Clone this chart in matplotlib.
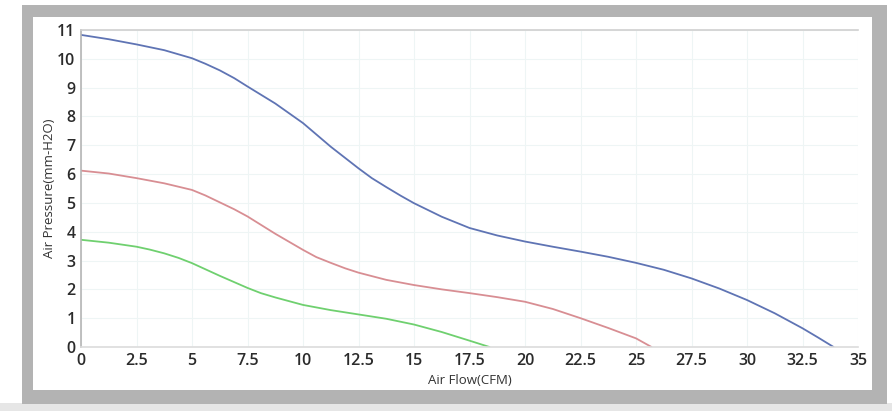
import matplotlib
matplotlib.use("Agg")
from matplotlib import pyplot as plt
from matplotlib.patches import Rectangle

# air flow (CFM) / air pressure (mm-H2O)
BLUE_X = [0, 1.25, 2.5, 3.75, 5, 5.6, 6.25, 6.9, 7.5, 8.75, 10, 11.25, 12.5, 13.1,
          13.75, 14.4, 15, 16.25, 17.5, 18.75, 20, 21.25, 22.5, 23.75, 25, 26.25,
          27.5, 28.75, 30, 31.25, 32.5, 33.2, 33.9]
BLUE_Y = [10.83, 10.68, 10.5, 10.3, 10.02, 9.83, 9.6, 9.33, 9.04, 8.45, 7.77, 6.95,
          6.2, 5.86, 5.55, 5.25, 4.99, 4.52, 4.13, 3.87, 3.66, 3.48, 3.31, 3.13,
          2.92, 2.68, 2.38, 2.03, 1.63, 1.17, 0.65, 0.33, 0]

RED_X = [0, 1.25, 2.5, 3.75, 5, 5.6, 6.25, 6.9, 7.5, 8.75, 10, 10.6, 11.25, 11.9,
         12.5, 13.75, 15, 16.25, 17.5, 18.75, 20, 21.25, 22.5, 23.75, 25, 25.7]
RED_Y = [6.12, 6.02, 5.86, 5.68, 5.45, 5.26, 5.02, 4.78, 4.53, 3.93, 3.37, 3.12,
         2.92, 2.73, 2.58, 2.33, 2.15, 2.0, 1.87, 1.73, 1.57, 1.32, 1.0, 0.66, 0.3, 0]

GREEN_X = [0, 1.25, 2.5, 3.1, 3.75, 4.4, 5, 6.25, 7.5, 8.1, 8.75, 10, 11.25, 12.5,
           13.75, 15, 16.25, 17.5, 18.4]
GREEN_Y = [3.72, 3.62, 3.48, 3.38, 3.25, 3.09, 2.91, 2.47, 2.05, 1.87, 1.72, 1.46,
           1.28, 1.13, 0.98, 0.78, 0.52, 0.22, 0]

X_TICKS = [0, 2.5, 5, 7.5, 10, 12.5, 15, 17.5, 20, 22.5, 25, 27.5, 30, 32.5, 35]
X_TICK_LABELS = ["0", "2.5", "5", "7.5", "10", "12.5", "15", "17.5", "20", "22.5",
                 "25", "27.5", "30", "32.5", "35"]
Y_TICKS = list(range(0, 12))

W, H = 892, 411
plt.rcParams['font.family'] = ['Open Sans', 'DejaVu Sans']

fig = plt.figure(figsize=(W/100, H/100), dpi=100)
fig.patch.set_facecolor('white')

def px_rect(x0, y0, x1, y1, color, z):
    # rectangle given in image pixel coords (y from top)
    fig.patches.append(Rectangle((x0/W, 1 - y1/H), (x1-x0)/W, (y1-y0)/H,
                                 transform=fig.transFigure, facecolor=color,
                                 edgecolor='none', zorder=z))

px_rect(0, 403, W, H, '#e6e6e6', -3)
px_rect(22, 5, 887, 404, '#b3b3b3', -2)
px_rect(33, 17, 872, 390, 'white', -1)

ax = fig.add_axes([81/W, 1 - 347/H, (858-81)/W, (347-30)/H])
ax.set_facecolor('none')

kw = dict(lw=1.3, solid_joinstyle='round', solid_capstyle='round')
ax.plot(BLUE_X, BLUE_Y, color='#5f74b4', **kw)
ax.plot(RED_X, RED_Y, color='#d88e93', **kw)
ax.plot(GREEN_X, GREEN_Y, color='#6fd06f', **kw)

ax.set_xlim(0, 35)
ax.set_ylim(0, 11)
ax.set_xticks(X_TICKS)
ax.set_xticklabels(X_TICK_LABELS)
ax.set_yticks(Y_TICKS)
ax.grid(True, color='#eef5f5', lw=0.8)
ax.set_axisbelow(True)

ax.tick_params(axis='both', length=0, labelsize=11.5, labelcolor='#2b2b2b')
ax.tick_params(axis='x', pad=4)
ax.tick_params(axis='y', pad=4)
for lab in ax.get_xticklabels() + ax.get_yticklabels():
    lab.set_fontweight('semibold')

ax.spines['left'].set_color('#b5b5b5')
ax.spines['top'].set_color('#d0d0d0')
ax.spines['bottom'].set_color('#dcdcdc')
ax.spines['right'].set_visible(False)
for s in ('left', 'top', 'bottom'):
    ax.spines[s].set_linewidth(1.2)

ax.set_xlabel("Air Flow(CFM)", fontsize=9.5, color='#333333', labelpad=4)
ax.set_ylabel("Air Pressure(mm-H2O)", fontsize=9.5, color='#333333', labelpad=1)

fig.savefig('out.png', dpi=100)
